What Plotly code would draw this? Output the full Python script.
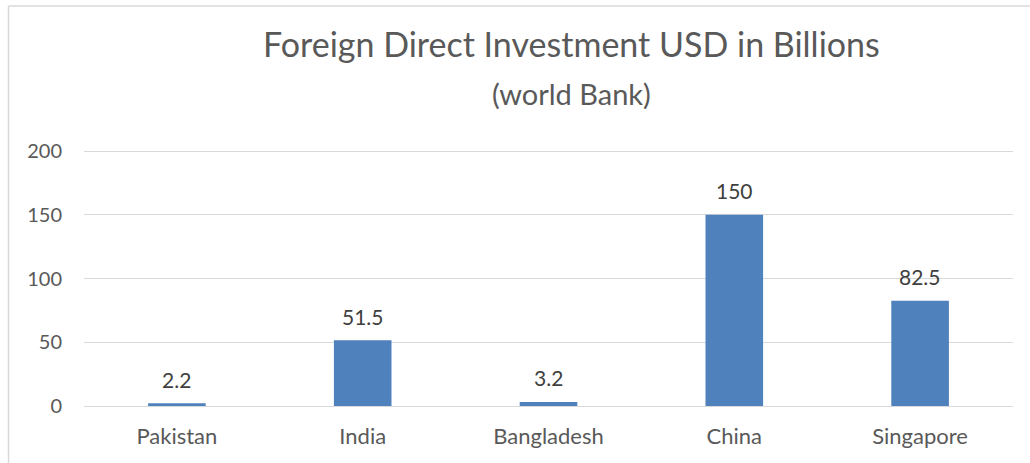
import plotly.graph_objects as go

countries = ["Pakistan", "India", "Bangladesh", "China", "Singapore"]
fdi_values = [2.2, 51.5, 3.2, 150, 82.5]
value_labels = ["2.2", "51.5", "3.2", "150", "82.5"]
y_ticks = [0, 50, 100, 150, 200]

W, H = 1030, 463
L, R, T, B = 84, 17, 150, 57
pw = W - L - R
ph = H - T - B

font_family = "Lato, 'Open Sans', sans-serif"
text_col = "#595959"

fig = go.Figure()
fig.add_trace(go.Bar(
    x=countries, y=fdi_values,
    marker=dict(color="#4F81BD", line=dict(width=0)),
    hoverinfo="x+y",
))

label_annots = [
    dict(x=c, y=v, xref="x", yref="y", text=t, showarrow=False,
         xanchor="center", yanchor="middle", yshift=24,
         font=dict(size=21, color="#404040", family=font_family))
    for c, v, t in zip(countries, fdi_values, value_labels)
]

def px_x(p):
    return (p - L) / pw

def px_y(p):
    return (H - B - p) / ph

border = dict(color="#D9D9D9", width=1.5)

fig.update_layout(
    width=W, height=H,
    margin=dict(l=L, r=R, t=T, b=B, autoexpand=False),
    paper_bgcolor="white", plot_bgcolor="white",
    showlegend=False,
    bargap=0.69,
    font=dict(family=font_family, color=text_col),
    xaxis=dict(showgrid=False, showline=False, ticks="",
               tickfont=dict(size=22, color=text_col), ticklabelstandoff=15),
    yaxis=dict(range=[0, 200.8], tickvals=y_ticks, showgrid=True,
               gridcolor="#D9D9D9", gridwidth=1.3, zeroline=True,
               zerolinecolor="#D9D9D9", zerolinewidth=1.3, showline=False,
               ticks="", tickfont=dict(size=20, color=text_col),
               ticklabelstandoff=21),
    annotations=label_annots + [
        dict(text="Foreign Direct Investment USD in Billions", xref="paper", yref="paper",
             x=px_x(571), y=px_y(43), xanchor="center", yanchor="middle",
             showarrow=False, font=dict(size=34, color=text_col, family=font_family)),
        dict(text="(world Bank)", xref="paper", yref="paper",
             x=px_x(571), y=px_y(93), xanchor="center", yanchor="middle",
             showarrow=False, font=dict(size=29, color=text_col, family=font_family)),
    ],
    shapes=[
        dict(type="line", xref="paper", yref="paper",
             x0=px_x(8.5), x1=px_x(8.5), y0=px_y(6), y1=px_y(470), line=border),
        dict(type="line", xref="paper", yref="paper",
             x0=px_x(8.5), x1=px_x(1035), y0=px_y(6), y1=px_y(6), line=border),
    ],
)

fig.write_html("out.html", config={"displayModeBar": False},
               post_script="document.body.style.margin='0';document.body.style.overflow='hidden';")
